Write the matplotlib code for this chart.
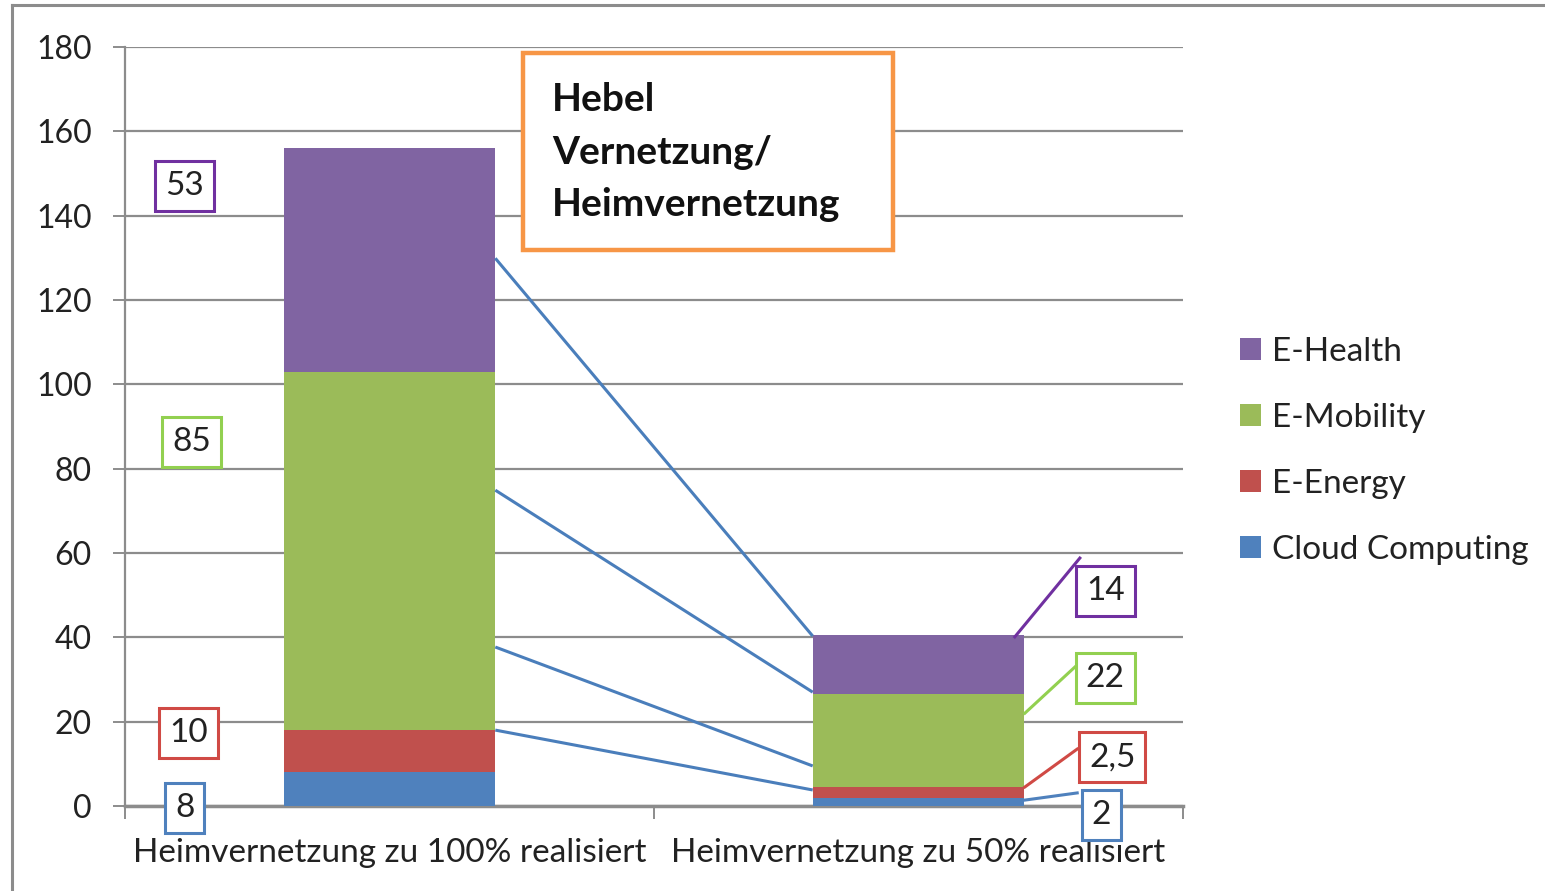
import matplotlib
matplotlib.use('Agg')
import matplotlib.pyplot as plt
from matplotlib.patches import Rectangle, Patch
from matplotlib.lines import Line2D

# ---------------- data ----------------
categories = ["Heimvernetzung zu 100% realisiert", "Heimvernetzung zu 50% realisiert"]
series_names = ["Cloud Computing", "E-Energy", "E-Mobility", "E-Health"]
cloud_computing = [8, 2]
e_energy = [10, 2.5]
e_mobility = [85, 22]
e_health = [53, 14]
yticks = list(range(0, 181, 20))
title_text = "Hebel\nVernetzung/\nHeimvernetzung"

# ---------------- style ----------------
bar_colors = ["#4F81BD", "#C0504D", "#9BBB59", "#8064A2"]
box_colors = ["#4F81BD", "#D04A45", "#92D050", "#7030A0"]
FONT = "Lato"
plt.rcParams['font.family'] = [FONT, 'DejaVu Sans']

W, H, DPI = 1545, 891, 100
fig = plt.figure(figsize=(W / DPI, H / DPI), dpi=DPI)
ax = fig.add_axes([125 / W, 1 - 806 / H, (1183 - 125) / W, (806 - 47) / H])

series = [cloud_computing, e_energy, e_mobility, e_health]
x = list(range(len(categories)))
bw = 0.4
bottom = [0, 0]
for vals, name, col in zip(series, series_names, bar_colors):
    ax.bar(x, vals, bw, bottom=bottom, color=col, label=name, zorder=3)
    bottom = [b + v for b, v in zip(bottom, vals)]

ax.set_xlim(-0.5, 1.5)
ax.set_ylim(0, 180)
ax.set_yticks(yticks)
ax.set_yticklabels([str(t) for t in yticks])
ax.yaxis.grid(True, color="#8C8C8C", linewidth=1.6, zorder=0)
ax.set_axisbelow(True)
for s in ["top", "right"]:
    ax.spines[s].set_visible(False)
ax.spines["left"].set_color("#8C8C8C")
ax.spines["left"].set_linewidth(1.6)
ax.spines["bottom"].set_color("#8C8C8C")
ax.spines["bottom"].set_linewidth(2.5)
ax.tick_params(axis="y", length=9, width=1.4, color="#8C8C8C", labelsize=23, pad=15,
               labelcolor="#222222")
ax.set_xticks(x)
ax.set_xticklabels(categories)
ax.tick_params(axis="x", length=0, labelsize=24, pad=23, labelcolor="#222222")
ax.set_xticks([-0.5, 0.5, 1.5], minor=True)
ax.tick_params(axis="x", which="minor", length=9, width=1.4, color="#8C8C8C")

def fmt(v):
    return (f"{v:g}").replace(".", ",")

# connectors between the two bars (bar1 right edge -> bar2 left edge)
connectors = [(129.9, 40.3), (74.9, 27.0), (37.7, 9.5), (18.0, 3.8)]
for y1, y2 in connectors:
    ax.plot([0.2, 0.8], [y1, y2], color="#4A7EBB", linewidth=2.2, zorder=4,
            solid_capstyle="butt")

box_style = "square,pad=0.3"
# left value boxes (bar 1)
left_pos = [(-0.387, -0.5), (-0.380, 17.3), (-0.374, 86.3), (-0.388, 147.0)]
for vals, (lx, ly), bc in zip(series, left_pos, box_colors):
    ax.text(lx, ly, fmt(vals[0]), ha="center", va="center", fontsize=24,
            color="#222222", zorder=6, clip_on=False,
            bbox=dict(boxstyle=box_style, facecolor="white",
                      edgecolor=bc, linewidth=2.2))

# right value boxes (bar 2) with leader lines
right_pos = [(1.346, -2.1), (1.366, 11.6), (1.353, 30.35), (1.353, 51.1)]
right_leaders = [((1.201, 1.4), (1.300, 3.1)),
                 ((1.201, 4.5), (1.300, 13.5)),
                 ((1.201, 22.0), (1.296, 33.0)),
                 ((1.182, 40.1), (1.305, 58.8))]
for vals, (rx, ry), bc, ((ax0, ay0), (ax1, ay1)) in zip(series, right_pos, box_colors, right_leaders):
    ax.plot([ax0, ax1], [ay0, ay1], color=bc, linewidth=2.2, zorder=4, clip_on=False)
    ax.text(rx, ry, fmt(vals[1]), ha="center", va="center", fontsize=24,
            color="#222222", zorder=6, clip_on=False,
            bbox=dict(boxstyle=box_style, facecolor="white",
                      edgecolor=bc, linewidth=2.2))

# title box
fig.add_artist(Rectangle((523 / W, 1 - 250 / H), (893 - 523) / W, (250 - 53) / H,
                         transform=fig.transFigure, facecolor="white",
                         edgecolor="#F79646", linewidth=3.2, zorder=10))
fig.text(552 / W, 1 - 152 / H, title_text, ha="left", va="center", fontsize=28,
         fontweight="bold", color="#111111", linespacing=1.62, zorder=11)

# legend
handles = [Patch(facecolor=c, edgecolor="none") for c in bar_colors]
leg = fig.legend(handles[::-1], series_names[::-1], loc="center left",
                 bbox_to_anchor=(1240 / W, 1 - 451 / H), frameon=False,
                 fontsize=24, handlelength=0.62, handleheight=0.62,
                 handletextpad=0.35, labelspacing=1.08, borderpad=0, borderaxespad=0)
for t in leg.get_texts():
    t.set_color("#222222")

# outer frame
fig.add_artist(Line2D([12 / W, 12 / W], [0, 1 - 5 / H], transform=fig.transFigure,
                      color="#8C8C8C", linewidth=2.2))
fig.add_artist(Line2D([12 / W, 1], [1 - 5 / H, 1 - 5 / H], transform=fig.transFigure,
                      color="#8C8C8C", linewidth=2.2))

fig.savefig("out.png", dpi=DPI, facecolor="white")
